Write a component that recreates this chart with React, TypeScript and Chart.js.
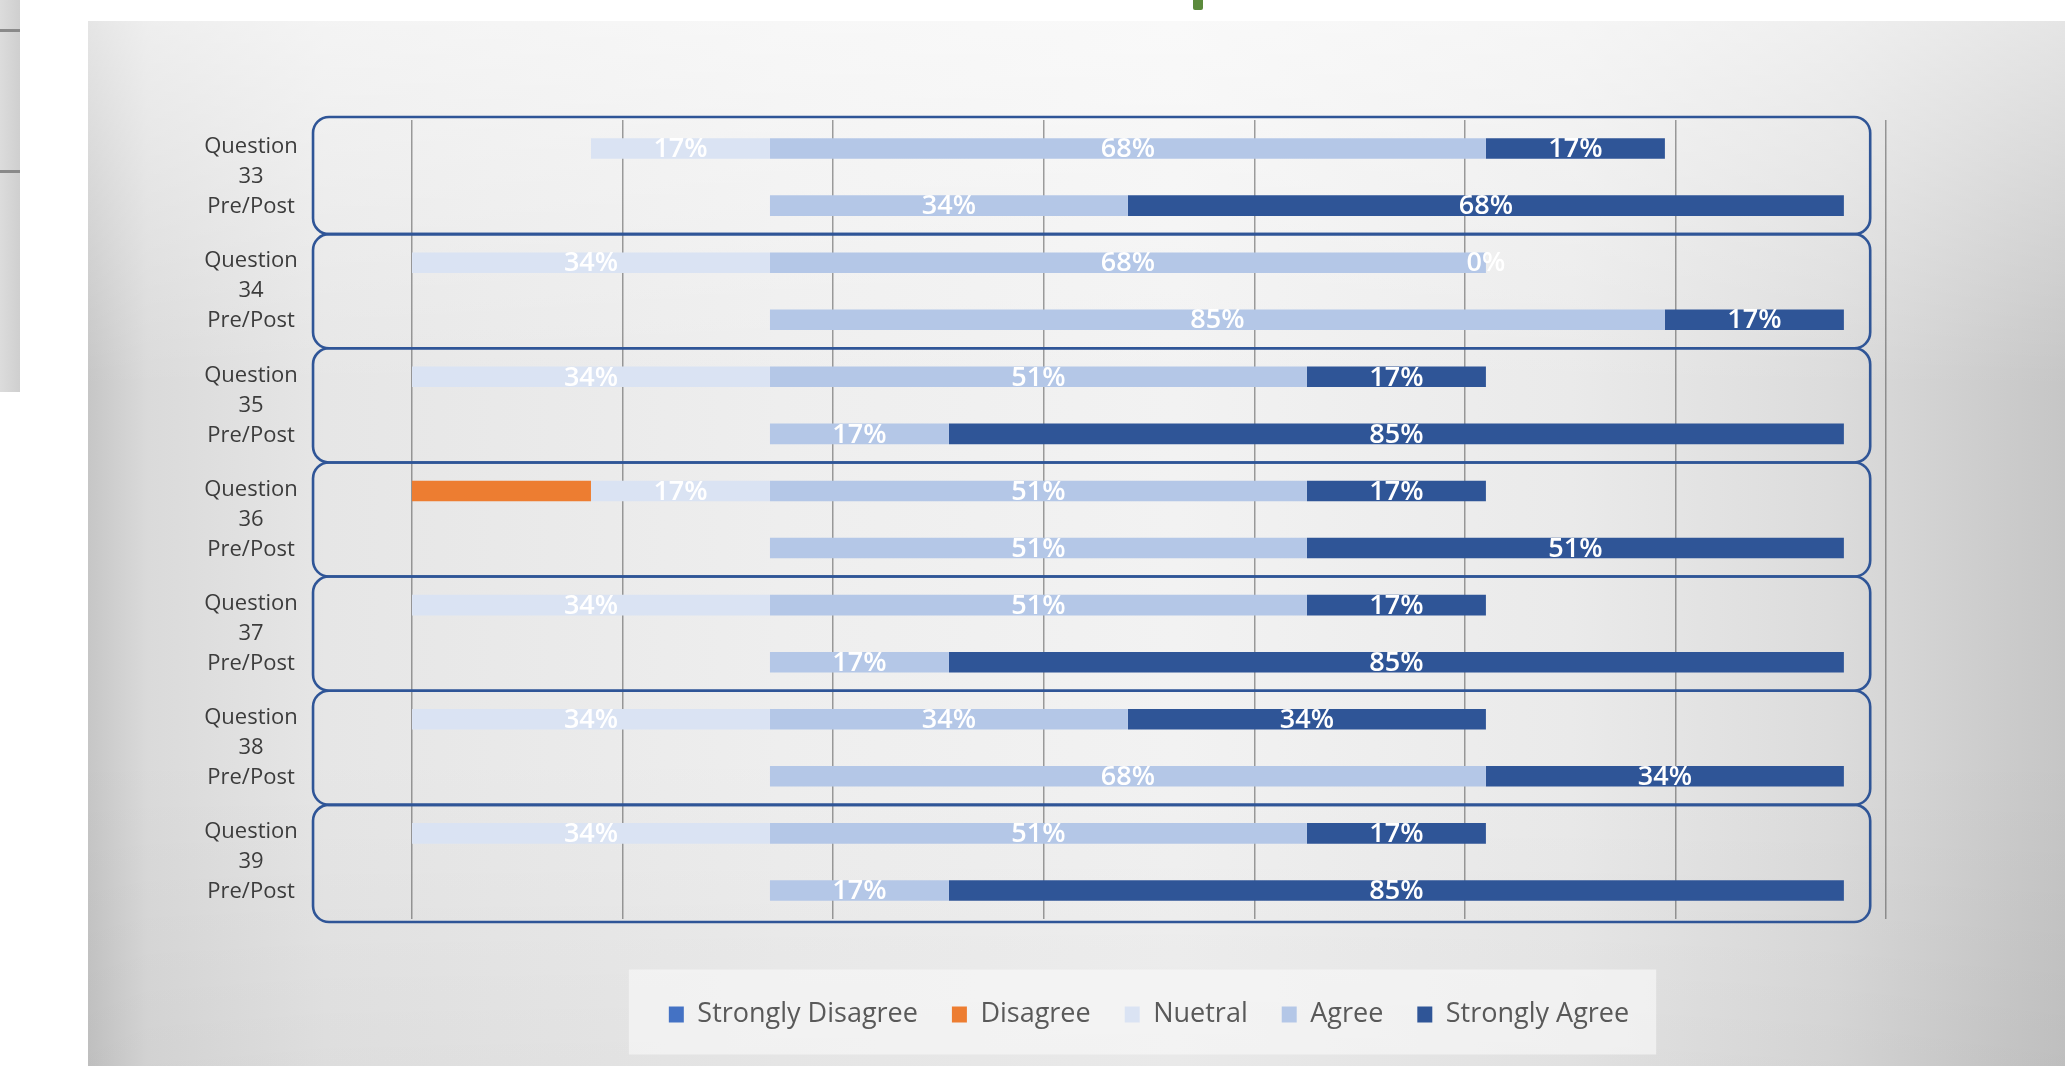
import React, { useEffect, useRef } from 'react';
import { Chart, registerables } from 'chart.js';

Chart.register(...registerables);

// ---------- data ----------
const questions = ['33', '34', '35', '36', '37', '38', '39'];
const categories = [
  'Q33 Pre', 'Q33 Post', 'Q34 Pre', 'Q34 Post', 'Q35 Pre', 'Q35 Post', 'Q36 Pre',
  'Q36 Post', 'Q37 Pre', 'Q37 Post', 'Q38 Pre', 'Q38 Post', 'Q39 Pre', 'Q39 Post',
];
const questionLabels = questions.map((q) => ['Question', q, 'Pre/Post']);

// percentages, pre/post interleaved per question
const stronglyDisagree: (number | null)[] = [null, null, null, null, null, null, null, null, null, null, null, null, null, null];
const disagree: (number | null)[] = [null, null, null, null, null, null, 17, null, null, null, null, null, null, null];
const neutral: (number | null)[] = [17, null, 34, null, 34, null, 17, null, 34, null, 34, null, 34, null];
const agree: (number | null)[] = [68, 34, 68, 85, 51, 17, 51, 51, 51, 17, 34, 68, 51, 17];
const stronglyAgree: (number | null)[] = [17, 68, 0, 17, 17, 85, 17, 51, 17, 85, 34, 34, 17, 85];

const seriesNames = ['Strongly Disagree', 'Disagree', 'Nuetral', 'Agree', 'Strongly Agree'];

// axis range (percent)
const AXIS_MIN = -34;
const AXIS_MAX = 106;
const AXIS_STEP = 20;
// extent of the rounded group frames (percent units on the x scale)
const FRAME_MIN = -43.4;
const FRAME_MAX = 104.5;

const FONT = '"Open Sans", "Noto Sans", sans-serif';

const neg = (arr: (number | null)[]) => arr.map((v) => (v == null ? null : -v));

const valueLabels = {
  id: 'valueLabels',
  afterDatasetsDraw(chart: any) {
    const { ctx } = chart;
    ctx.save();
    ctx.font = `600 27px ${FONT}`;
    ctx.fillStyle = '#ffffff';
    ctx.textAlign = 'center';
    ctx.textBaseline = 'middle';
    chart.data.datasets.forEach((ds: any, di: number) => {
      if (!ds.showValueLabels) return;
      const meta = chart.getDatasetMeta(di);
      meta.data.forEach((el: any, i: number) => {
        const v = ds.data[i];
        if (v == null) return;
        const { x, base, y } = el.getProps(['x', 'base', 'y'], true);
        let cx = (x + base) / 2;
        if (v === 0 && ds.stackAfter != null) {
          // zero-length segment: place label at the end of the preceding positive segment
          const prev = chart.getDatasetMeta(ds.stackAfter).data[i];
          if (prev) cx = prev.getProps(['x'], true).x;
        }
        ctx.fillText(Math.abs(v) + '%', cx, y + 1);
      });
    });
    ctx.restore();
  },
};

const groupFrames = {
  id: 'groupFrames',
  beforeDatasetsDraw(chart: any) {
    const { ctx } = chart;
    const xs = chart.scales.x;
    const ys = chart.scales.y;
    const left = xs.getPixelForValue(FRAME_MIN);
    const right = xs.getPixelForValue(FRAME_MAX);
    const half = (ys.getPixelForValue(1) - ys.getPixelForValue(0)) / 2;
    ctx.save();
    ctx.strokeStyle = '#2F5597';
    ctx.lineWidth = 2.6;
    questions.forEach((_, q) => {
      let top = ys.getPixelForValue(2 * q) - half;
      let bottom = ys.getPixelForValue(2 * q + 1) + half;
      if (q === 0) top -= 3;
      if (q === questions.length - 1) bottom += 3;
      ctx.beginPath();
      ctx.roundRect(left, top, right - left, bottom - top, 16);
      ctx.stroke();
    });
    ctx.restore();
  },
};

const legendBackground = {
  id: 'legendBackground',
  beforeDraw(chart: any) {
    const lg = chart.legend;
    if (!lg || !lg.legendHitBoxes || !lg.legendHitBoxes.length) return;
    const hb = lg.legendHitBoxes;
    const first = hb[0];
    const last = hb[hb.length - 1];
    const cy = first.top + first.height / 2;
    const { ctx } = chart;
    ctx.save();
    ctx.fillStyle = 'rgba(246,246,246,0.7)';
    ctx.fillRect(first.left - 40, cy - 45, last.left + last.width + 27 - (first.left - 40), 85);
    ctx.restore();
  },
};

export default function App() {
  const canvasRef = useRef<HTMLCanvasElement>(null);

  useEffect(() => {
    const canvas = canvasRef.current;
    if (!canvas) return;

    // measure widest category label line to center labels left of the frames
    const mctx = document.createElement('canvas').getContext('2d')!;
    mctx.font = `22px ${FONT}`;
    let widest = 0;
    questionLabels.forEach((lines) => lines.forEach((l) => { widest = Math.max(widest, mctx.measureText(l).width); }));
    const labelCenterGap = 161; // distance from plot left edge to label centre
    const tickPad = Math.max(0, labelCenterGap - widest / 2);

    const common = { borderWidth: 0, barPercentage: 0.36, categoryPercentage: 1 };

    const chart = new Chart(canvas, {
      type: 'bar',
      data: {
        labels: categories,
        datasets: [
          { label: seriesNames[0], data: neg(stronglyDisagree), backgroundColor: '#4472C4', order: 3, showValueLabels: false, ...common } as any,
          { label: seriesNames[1], data: neg(disagree), backgroundColor: '#ED7D31', order: 2, showValueLabels: false, ...common } as any,
          { label: seriesNames[2], data: neg(neutral), backgroundColor: '#DAE3F3', order: 1, showValueLabels: true, ...common } as any,
          { label: seriesNames[3], data: agree, backgroundColor: '#B4C7E7', order: 4, showValueLabels: true, ...common } as any,
          { label: seriesNames[4], data: stronglyAgree, backgroundColor: '#2F5597', order: 5, showValueLabels: true, stackAfter: 3, ...common } as any,
        ],
      },
      options: {
        indexAxis: 'y',
        responsive: false,
        animation: false,
        devicePixelRatio: 1,
        layout: { padding: { left: 0, right: 179, top: 120, bottom: 28 } },
        scales: {
          x: {
            type: 'linear',
            stacked: true,
            min: AXIS_MIN,
            max: AXIS_MAX,
            position: 'bottom',
            ticks: { display: false, stepSize: AXIS_STEP },
            grid: { color: 'rgba(80,80,80,0.55)', lineWidth: 1.5, drawTicks: false },
            border: { display: false },
            afterFit: (s: any) => { s.height = 48; s.paddingLeft = 0; s.paddingRight = 0; },
          },
          y: {
            type: 'category',
            stacked: true,
            display: false,
            offset: true,
          },
          yq: {
            type: 'category',
            labels: questionLabels as any,
            position: 'left',
            offset: true,
            grid: { display: false, drawTicks: false },
            border: { display: false },
            ticks: {
              autoSkip: false,
              crossAlign: 'center',
              padding: tickPad,
              color: '#3c3c3c',
              font: { family: FONT, size: 22, lineHeight: 30 / 22 },
            },
            afterFit: (s: any) => { s.width = 412; s.paddingTop = 0; s.paddingBottom = 0; },
          } as any,
        },
        plugins: {
          legend: {
            display: true,
            position: 'bottom',
            fullSize: false,
            labels: {
              boxWidth: 15,
              boxHeight: 16,
              padding: 34,
              color: '#595959',
              font: { family: FONT, size: 27 },
              sort: (a: any, b: any) => a.datasetIndex - b.datasetIndex,
            },
          },
          tooltip: { enabled: false },
        },
      } as any,
      plugins: [groupFrames, valueLabels, legendBackground],
    });

    return () => chart.destroy();
  }, []);

  return (
    <div style={{ position: 'absolute', left: 0, top: 0, width: 2065, height: 1066, overflow: 'hidden', background: '#ffffff' }}>
      <div
        style={{
          position: 'absolute', left: 0, top: 0, width: 20, height: 392,
          background: 'linear-gradient(to right, #dcdcdc, #cfcfcf)',
        }}
      >
        <div style={{ position: 'absolute', left: 0, top: 29, width: 20, height: 3, background: '#8a8a8a' }} />
        <div style={{ position: 'absolute', left: 0, top: 170, width: 20, height: 3, background: '#8a8a8a' }} />
      </div>
      <div style={{ position: 'absolute', left: 1193, top: 0, width: 10, height: 10, background: '#5b8a3c', borderRadius: '0 0 2px 2px' }} />
      <div
        style={{
          position: 'absolute', left: 88, top: 21, right: 0, bottom: 0,
          background:
            'linear-gradient(to bottom, rgba(255,255,255,0.55) 0%, rgba(255,255,255,0) 35%, rgba(0,0,0,0) 70%, rgba(0,0,0,0.04) 100%), ' +
            'linear-gradient(to right, #c6c6c6 0%, #dadada 3%, #e6e6e6 12%, #eeeeee 35%, #f2f2f2 55%, #eaeaea 75%, #dcdcdc 88%, #cdcdcd 96%, #c6c6c6 100%)',
        }}
      />
      <canvas
        ref={canvasRef}
        width={2065}
        height={1066}
        style={{ position: 'absolute', left: 0, top: 0, width: 2065, height: 1066 }}
      />
    </div>
  );
}
